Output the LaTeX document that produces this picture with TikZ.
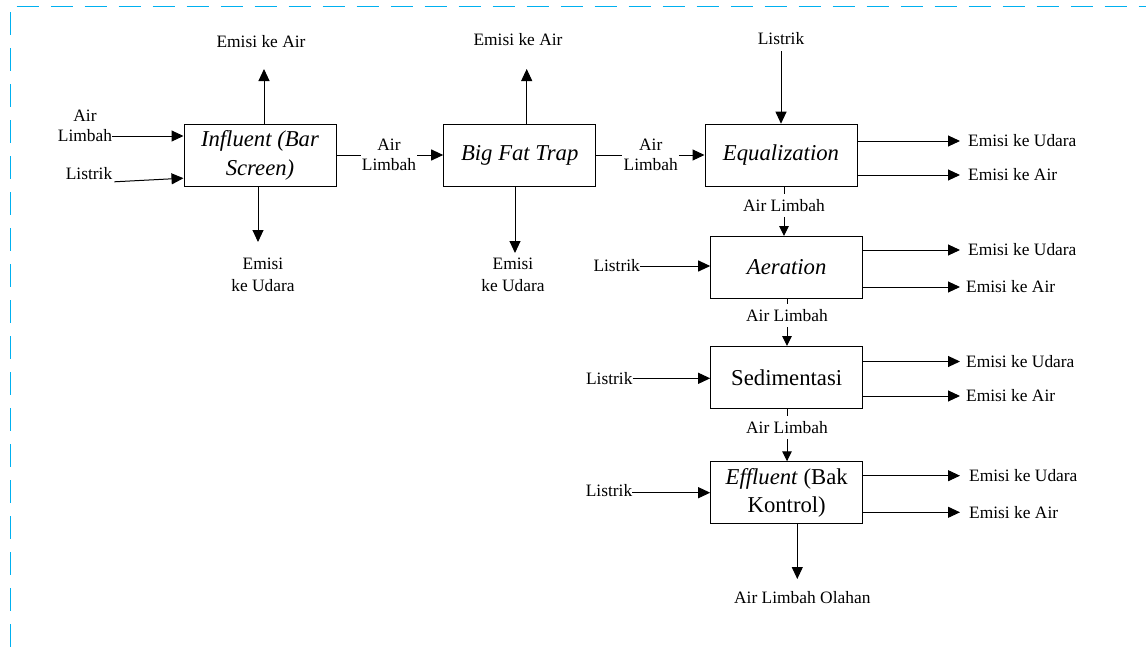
\documentclass[tikz,border=0pt]{standalone}
\usepackage{fontspec}
\setmainfont{Liberation Serif}
\usetikzlibrary{arrows.meta,calc}
\definecolor{bordercol}{RGB}{0,176,240}
\tikzset{
  lbl/.style={inner sep=0pt, font=\fontsize{17.4}{20.5}\selectfont, align=center},
  lbl2/.style={inner sep=0pt, font=\fontsize{17.4}{21.7}\selectfont, align=center},
  midlbl/.style={inner xsep=1pt, inner ysep=5pt, font=\fontsize{17.4}{20.5}\selectfont, align=center},
  outlbl/.style={anchor=west, inner xsep=8pt, inner ysep=0pt, font=\fontsize{17.4}{20.5}\selectfont},
  procbox/.style={draw, line width=1pt, minimum width=152pt, minimum height=62pt, inner sep=0pt,
    font=\fontsize{22.7}{28.5}\selectfont, align=center},
  arr/.style={-{Triangle[length=12pt,width=11pt]}, line width=1pt},
  arrs/.style={-{Triangle[length=10pt,width=9.5pt]}, line width=1pt},
  plain/.style={line width=1pt},
}
\begin{document}
\begin{tikzpicture}[x=1pt,y=-1pt]
\useasboundingbox (0,0) rectangle (1146,648);
% border
\draw[bordercol, line width=1.4pt, dash pattern=on 22pt off 12pt] (16.7,6.7) -- (1146,6.7);
\draw[bordercol, line width=1.4pt, dash pattern=on 23pt off 13pt] (10.3,12) -- (10.3,648);

% boxes
\node[procbox] (b1) at (260,155.2) {\textit{Influent (Bar}\\\textit{Screen)}};
\node[procbox] (b2) at (519.7,155.3) {\textit{Big Fat Trap}};
\node[procbox] (b3) at (781,155.2) {\textit{Equalization}};
\node[procbox] (b4) at (786.7,267.5) {\textit{Aeration}};
\node[procbox] (b5) at (786.7,377.5) {Sedimentasi};
\node[procbox] (b6) at (786.7,492.8) {\textit{Effluent} (Bak\\Kontrol)};

% box 1 inputs
\node[lbl] (la1) at (85,116) {Air};
\node[lbl] (la2) at (85,136) {Limbah};
\draw[arr] (la2.east) -- (b1.west |- la2.east);
\node[lbl] (ls1) at (89,173.3) {Listrik};
\draw[arr] ([shift={(2,8.5)}]ls1.east) -- ([yshift=-23pt]b1.west);

% box 1 outputs
\node[lbl] (e1u) at (261,42) {Emisi ke Air};
\coordinate (t1u) at (264,69);
\draw[arr] (b1.north -| t1u) -- (t1u);
\node[lbl2] (e1d) at (263,275) {Emisi\\ke Udara};
\coordinate (t1d) at (258,242);
\draw[arr] (b1.south -| t1d) -- (t1d);

% box 1 -> box 2
\node[midlbl] (w12) at (389,155) {Air\\Limbah};
\draw[plain] (b1.east |- w12.west) -- (w12.west);
\draw[arr] (w12.east) -- (b2.west |- w12.east);

% box 2 outputs
\node[lbl] (e2u) at (518,40) {Emisi ke Air};
\coordinate (t2u) at (526.7,69);
\draw[arr] (b2.north -| t2u) -- (t2u);
\node[lbl2] (e2d) at (513,275) {Emisi\\ke Udara};
\coordinate (t2d) at (515,253);
\draw[arr] (b2.south -| t2d) -- (t2d);

% box 2 -> box 3
\node[midlbl] (w23) at (650.7,155) {Air\\Limbah};
\draw[plain] (b2.east |- w23.west) -- (w23.west);
\draw[arr] (w23.east) -- (b3.west |- w23.east);

% box 3
\node[lbl, inner sep=6pt] (ls3) at (781,39) {Listrik};
\draw[arr] (ls3.south) -- (b3.north);
\node[outlbl] (u3) at (960,141) {Emisi ke Udara};
\node[outlbl] (a3) at (960,175) {Emisi ke Air};
\draw[arr] (b3.east |- u3.west) -- (u3.west);
\draw[arr] (b3.east |- a3.west) -- (a3.west);

% box 3 -> box 4
\node[midlbl] (w34) at (784,205.5) {Air Limbah};
\draw[plain] (b3.south -| w34.north) -- (w34.north);
\draw[arrs] (w34.south) -- (w34.south |- b4.north);

% box 4
\node[lbl] (ls4) at (616.7,266) {Listrik};
\draw[arr] (ls4.east) -- (b4.west |- ls4.east);
\node[outlbl] (u4) at (960,250) {Emisi ke Udara};
\node[outlbl, inner xsep=6pt] (a4) at (960,287) {Emisi ke Air};
\draw[arr] (b4.east |- u4.west) -- (u4.west);
\draw[arr] (b4.east |- a4.west) -- (a4.west);

% box 4 -> box 5
\node[midlbl] (w45) at (787,315.7) {Air Limbah};
\draw[plain] (b4.south -| w45.north) -- (w45.north);
\draw[arrs] (w45.south) -- (w45.south |- b5.north);

% box 5
\node[lbl] (ls5) at (609.3,378.3) {Listrik};
\draw[arr] (ls5.east) -- (b5.west |- ls5.east);
\node[outlbl, inner xsep=6pt] (u5) at (960,361.5) {Emisi ke Udara};
\node[outlbl, inner xsep=6pt] (a5) at (960,396) {Emisi ke Air};
\draw[arr] (b5.east |- u5.west) -- (u5.west);
\draw[arr] (b5.east |- a5.west) -- (a5.west);

% box 5 -> box 6
\node[midlbl] (w56) at (787,427.7) {Air Limbah};
\draw[plain] (b5.south -| w56.north) -- (w56.north);
\draw[arrs] (w56.south) -- (w56.south |- b6.north);

% box 6
\node[lbl] (ls6) at (609,490.7) {Listrik};
\coordinate (ls6e) at ([yshift=-2pt]ls6.east);
\draw[arr] (ls6e) -- (b6.west |- ls6e);
\node[outlbl, inner xsep=9pt] (u6) at (960,475.7) {Emisi ke Udara};
\node[outlbl, inner xsep=9pt] (a6) at (960,512.3) {Emisi ke Air};
\draw[arr] (b6.east |- u6.west) -- (u6.west);
\draw[arr] (b6.east |- a6.west) -- (a6.west);

\node[lbl] (o6) at (802.3,597.3) {Air Limbah Olahan};
\coordinate (t6) at (797.3,579);
\draw[arr] (b6.south -| t6) -- (t6);
\end{tikzpicture}
\end{document}
